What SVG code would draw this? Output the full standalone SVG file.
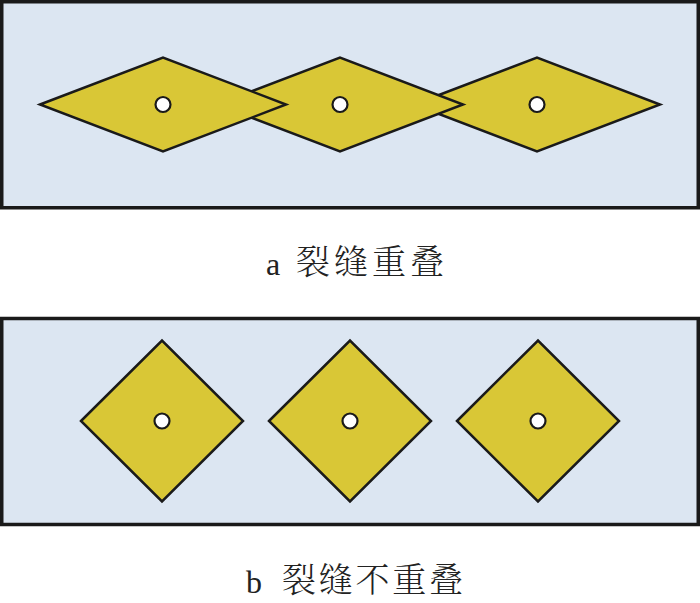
<svg xmlns="http://www.w3.org/2000/svg" width="700" height="603" viewBox="0 0 700 603">
<style>
.panel{fill:#dce6f2;stroke:#1a1a1a;stroke-width:3.5}
.blade{fill:#d9c736;stroke:#1a1a1a;stroke-width:2.5;stroke-linejoin:miter}
.hole{fill:#ffffff;stroke:#1a1a1a;stroke-width:2.2}
.lat{font-family:"Liberation Serif",serif;font-size:32px;fill:#222}
.cjk{font-family:"Noto Serif CJK SC","Noto Sans CJK SC",serif;font-size:34px;font-weight:300;fill:#222}
</style>
<rect width="700" height="603" fill="#ffffff"/>
<g id="panel-a">
<rect class="panel" x="1.75" y="1.75" width="696.5" height="206"/>
</g>
<g id="crack-a3"><polygon class="blade" points="414,104.5 537,57.5 660,104.5 537,151.5"/><circle class="hole" cx="537" cy="104.5" r="7.5"/></g>
<g id="crack-a2"><polygon class="blade" points="217,104.5 340,57.5 463,104.5 340,151.5"/><circle class="hole" cx="340" cy="104.5" r="7.5"/></g>
<g id="crack-a1"><polygon class="blade" points="40,104.5 163,57.5 286,104.5 163,151.5"/><circle class="hole" cx="163" cy="104.5" r="7.5"/></g>
<g id="label-a"><text class="lat" x="266" y="275">a</text><text class="cjk" x="296" y="274" textLength="148" lengthAdjust="spacing">裂缝重叠</text></g>
<g id="panel-b">
<rect class="panel" x="1.75" y="318.5" width="696.5" height="206"/>
</g>
<g id="crack-b1"><polygon class="blade" points="81,421 162,340.5 243,421 162,501.5"/><circle class="hole" cx="162" cy="421" r="7.5"/></g>
<g id="crack-b2"><polygon class="blade" points="269,421 350,340.5 431,421 350,501.5"/><circle class="hole" cx="350" cy="421" r="7.5"/></g>
<g id="crack-b3"><polygon class="blade" points="457,421 538,340.5 619,421 538,501.5"/><circle class="hole" cx="538" cy="421" r="7.5"/></g>
<g id="label-b"><text class="lat" x="246" y="593">b</text><text class="cjk" x="282" y="592" textLength="181" lengthAdjust="spacing">裂缝不重叠</text></g>
<g id="connectors"></g>
</svg>
